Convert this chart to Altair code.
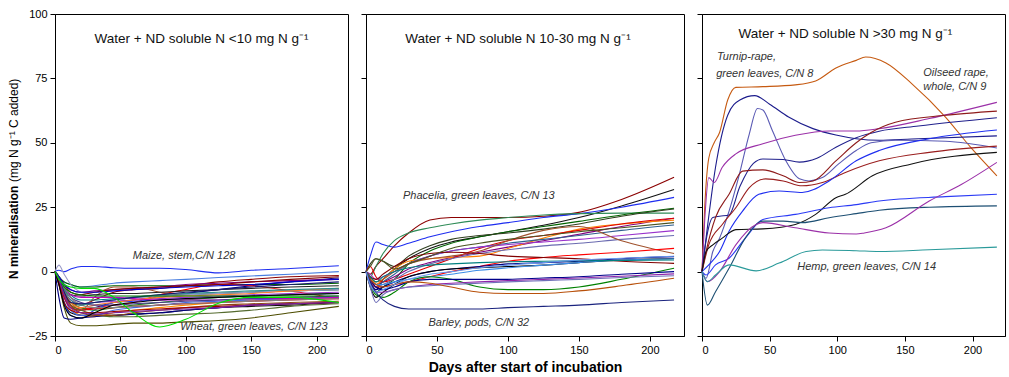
import altair as alt
import pandas as pd

# ---------------- data ----------------
P1_DAYS = [0, 3, 7, 12, 20, 30, 45, 60, 80, 100, 125, 150, 180, 217]
P1_SERIES = [
    ("#1E2EF0", [0, 0.5, 0, 1, 2, 2, 1.5, 1.3, 1.3, 0.8, -0.5, 0.5, 1.2, 2.3]),
    ("#4A7FE0", [0, -2, -4, -5, -6, -5.5, -4.5, -4, -3.5, -3, -2.3, -1.7, -1, 0]),
    ("#4D4D00", [0, -5, -14, -20, -21, -21, -20.5, -20, -20, -19.5, -19, -18, -16, -13.5]),
    ("#006400", [0, -2, -4, -5, -6, -6, -5.5, -5.5, -5.5, -5.5, -5, -5, -5, -4.5]),
    ("#8B0000", [0, -3, -8, -12, -13, -11, -8, -7, -6.5, -5.5, -4, -3, -2, -1.5]),
    ("#000080", [0, -4, -10, -14, -15, -14, -12, -11, -10, -8.5, -7, -5.5, -4, -2.5]),
    ("#FF0000", [0, -3, -9, -13, -14.5, -14, -13, -12, -9, -7, -5, -5.5, -7.5, -10.5]),
    ("#800080", [0, -2, -5, -7, -8, -7.5, -7, -6.5, -6, -5, -4.5, -4, -3.5, -3]),
    ("#FF8C00", [0, -3, -9, -14, -17, -17.5, -16, -15, -14, -13, -12, -11, -10.5, -10]),
    ("#A0522D", [0, -3, -8, -12, -15, -10, -6, -6, -8, -9, -8.5, -8, -7.5, -7]),
    ("#111111", [0, -4, -12, -16, -17, -17, -17, -16.5, -16, -15, -14, -13.5, -13, -12]),
    ("#008080", [0, -2, -6, -9, -11, -11, -10.5, -10, -9.5, -9, -8.5, -8, -7.5, -7]),
    ("#1E3CFF", [0, -4, -12, -17, -18, -15, -12, -11.5, -11, -10.5, -10, -9.5, -9, -8.5]),
    ("#000080", [0, -10, -18, -18.5, -18, -17.5, -17, -16.5, -16, -15, -14, -13, -12.5, -12]),
    ("#9A9AC8", [0, 2.5, -1, -5, -8, -9, -10, -10, -9.5, -9, -8.5, -8, -7.5, -7]),
    ("#228B22", [0, -3, -8, -12, -14, -15, -14, -13, -12, -11, -10, -9.5, -9, -8.5]),
    ("#800000", [0, -2, -5, -8, -9, -8, -7, -6.5, -6, -5.5, -5, -4, -3, -2]),
    ("#9932CC", [0, -3, -8, -11, -12.5, -12, -11.5, -11, -10.5, -10, -9.5, -9, -8.5, -8]),
    ("#4169E1", [0, -3, -10, -15, -17, -17, -15, -14, -13, -12, -11.5, -11, -10.5, -10]),
    ("#222222", [0, -3, -7, -9, -9.5, -9, -8.5, -8.5, -8, -7.5, -7, -6.5, -6, -5.5]),
    ("#E00000", [0, -4, -10, -14, -15, -14.5, -14, -13.5, -13, -12.5, -12, -11.5, -11, -10.5]),
    ("#FF7F27", [0, -2, -7, -12, -14, -13, -12, -11, -10, -9.5, -9, -8.5, -7.5, -6.5]),
    ("#C000C0", [0, -2, -6, -9, -10, -10, -10, -10.5, -11, -11, -11, -10.5, -10.5, -10]),
    ("#556B2F", [0, -3, -9, -13, -15, -16.5, -17.5, -17.5, -17, -16.5, -16, -15, -13.5, -12.5]),
    ("#483D8B", [0, -3, -7, -10, -12, -13, -13, -12.5, -12, -11.5, -11, -10.5, -10, -9.5]),
    ("#808080", [0, -2, -6, -10, -13, -14, -14, -13.5, -13, -12.5, -12, -11.5, -11, -10.5]),
    ("#2E8B8B", [0, -2, -7, -11, -13, -12, -11, -10, -9, -8.5, -8, -7.5, -7, -6.5]),
    ("#8B4513", [0, -3, -8, -13, -16, -17, -17, -16, -15, -14, -13, -12.5, -12, -11.5]),
    ("#191970", [0, -3, -8, -12, -12.5, -12, -11, -10, -9, -8, -7, -6, -5, -4]),
    ("#008000", [0, -2, -6, -8, -9, -9.5, -9.5, -9.5, -9.5, -9.5, -9.5, -9.5, -9.5, -9.5]),
    ("#0000CD", [0, -2, -5, -7, -8, -8, -7.5, -7, -6.5, -6, -5.5, -5, -4, -3]),
    ("#A00000", [0, -5, -12, -15, -16, -16, -15.5, -15, -14.5, -14, -13.5, -13, -12.5, -12]),
    ("#7B1FA2", [0, -3, -9, -14, -16, -16.5, -16, -15.5, -15, -14.5, -14, -13, -12.5, -12]),
    ("#000000", [0, -5, -13, -17, -18, -16, -13, -12, -11, -10.5, -10, -9.5, -9, -8.5]),
    ("#00E000", [0, -3, -5, -6, -6.5, -6.5, -10, -16, -21.5, -18.5, -12.3, -10, -10, -12]),
]

P2_DAYS = [0, 3, 7, 12, 20, 30, 45, 60, 80, 100, 125, 150, 180, 217]
P2_SERIES = [
    ("#8B0000", [0, -1, 2, 5, 10, 15, 20, 21, 21, 21, 21.5, 23, 28, 36.6]),
    ("#111111", [0, -5, -7, -3, 1, 5, 9, 11.5, 13.5, 15.5, 18, 21, 25.5, 31.9]),
    ("#1E2EF0", [0, 6, 11.5, 10.5, 9.5, 11, 13.5, 15.5, 17.5, 19, 21, 22.5, 25, 28.8]),
    ("#2E8B57", [0, -2, 2, 7, 12, 15, 17, 18.5, 20, 21, 22, 22.5, 22.7, 22.7]),
    ("#006400", [0, -4, -8, -6, -3, 3, 8, 11, 13.5, 15.5, 17.5, 19.5, 22, 24.6]),
    ("#2F3F1F", [0, 3, 5, 4, 2, 6, 10, 12.5, 14, 15, 16.5, 18.5, 21.5, 24.3]),
    ("#800080", [0, -3, -5, -4, -2, 1, 3.5, 5.5, 7.5, 9.5, 12, 14.5, 17.5, 20.7]),
    ("#FF8000", [0, -2, -5, -3, 1, 4, 5, 5.5, 6, 9, 13, 16.5, 18.5, 20]),
    ("#E00000", [0, 2, -2, -4, -3, -1, 2, 5, 9, 12, 14, 16, 18.5, 20.7]),
    ("#2F5F8F", [0, -4, -6, -4, -1, 3, 6, 8, 9.5, 11, 12.5, 14, 16, 18.1]),
    ("#9932CC", [0, -1, -3, -2, 0, 3, 6, 8, 9.5, 10.5, 11.5, 12.5, 14, 15.9]),
    ("#6A6AB0", [0, -3, -6, -5, -3, 0, 3, 5, 7, 8.5, 10, 11, 12.5, 14]),
    ("#A0522D", [0, -2, -4, -3, 0, 3, 5, 6, 8, 12, 16, 17.5, 12, 7]),
    ("#FF0000", [0, -3, -6, -6, -5, -4, -2, 0, 2, 4, 5.5, 6.5, 7.5, 9]),
    ("#800000", [0, -2, -3, -1, 2, 5, 7, 7.5, 7, 6, 5.5, 5, 4, 3.2]),
    ("#000080", [0, -4, -7, -6, -4, -2, 0, 1, 2, 3, 3.5, 4, 5, 5.8]),
    ("#000000", [0, -6, -10, -8, -5, -2, 0, 1, 1.5, 2, 2.5, 3.5, 4.5, 5.1]),
    ("#3C8CE6", [0, -3, -5, -5, -4, -3, -2, -1, 0.5, 1.5, 2.5, 3.5, 4.5, 5]),
    ("#008080", [0, -2, -4, -2, 0, 1.5, 2.5, 3, 3.5, 3.8, 4, 4.2, 4.3, 4.5]),
    ("#008000", [0, -5, -9, -10, -8, -4, -2, -3, -6, -7, -7, -6, -3, 1.3]),
    ("#00008B", [0, -3, -6, -7, -6, -4, -3, -3, -3, -3, -2.5, -2, -1, 0]),
    ("#8E24AA", [0, -4, -8, -8, -7, -6, -5, -4.5, -4, -3.5, -3, -2.5, -1.8, -0.9]),
    ("#7070B8", [0, -6, -12, -9, -7, -6, -5.5, -5, -4.5, -4, -3.5, -3, -2.3, -1.6]),
    ("#B8500A", [0, -3, -5, -6, -5, -4, -4.5, -6, -8, -8.5, -8.5, -7.5, -5.5, -2.6]),
    ("#1A237E", [0, -4, -8, -11, -13.5, -14.5, -14.5, -14.5, -14.5, -14, -13.5, -13, -12, -11]),
    ("#4B5320", [0, 2, 5, 4, 1, 3, 6, 9, 11, 12.5, 14, 15.5, 17, 19]),
    ("#6495ED", [0, -5, -8, -7, -5, -3, -1, 0, 1.5, 2.5, 3.5, 4.5, 5.2, 6]),
]

P3_SERIES = [
    ("#C65A11", [0, 2, 5, 9, 13, 19, 25, 45, 69, 84, 99, 114, 121, 136, 155, 180, 199, 218],
     [0, 25, 44, 50, 54, 66.6, 71.5, 71.8, 72.5, 74, 79, 82, 83.3, 81, 73, 60, 48, 37.2]),
    ("#1C1C8C", [0, 3, 10, 19, 28, 39, 50, 64, 82, 99, 114, 131, 155, 218],
     [0, 13, 40.5, 60.7, 66.6, 68.3, 65, 60, 55.5, 53, 51.6, 51, 51.5, 52.7]),
    ("#5A5AB4", [0, 3, 8, 13, 20, 27, 35, 41, 45, 52, 62, 72, 79, 89, 101, 114, 125, 143, 180, 218],
     [0, -2.6, 7.8, 13, 23.5, 36.5, 53.5, 63.3, 62.7, 54.8, 43, 36, 35.2, 36.5, 41.8, 47, 50, 51, 50.6, 48]),
    ("#9B30A8", [0, 2, 5, 9, 15, 25, 45, 69, 94, 114, 131, 168, 218],
     [0, 20, 36.5, 34.6, 40.5, 45.7, 49.6, 52.9, 54.6, 54.6, 55.5, 59.4, 65.7]),
    ("#20208C", [0, 3, 8, 13, 20, 28, 38, 45, 60, 72, 85, 99, 114, 131, 160, 218],
     [0, 12, 21, 21.5, 22, 33, 42, 43.7, 43.5, 42.5, 44, 48.3, 52, 54.5, 56.5, 59.7]),
    ("#8E1B1B", [0, 3, 10, 20, 30, 45, 60, 72, 82, 99, 114, 125, 143, 180, 218],
     [0, 7.8, 21, 30, 39, 39.5, 37.2, 34.6, 35.2, 43, 50, 54, 58, 60.7, 62.3]),
    ("#9A1E1E", [0, 5, 15, 25, 35, 47, 60, 74, 89, 106, 131, 168, 218],
     [0, 10.4, 18.3, 24.8, 32.6, 36, 35.2, 33.3, 34.6, 38.5, 43, 46.3, 48.7]),
    ("#1E2EF0", [0, 5, 13, 20, 30, 42, 57, 74, 94, 114, 131, 168, 218],
     [0, 2.6, 7.8, 15.7, 23.5, 30, 31.3, 30.7, 35.2, 43, 47, 51.6, 55]),
    ("#111111", [0, 3, 8, 15, 25, 45, 69, 84, 99, 106, 126, 155, 218],
     [0, 7.8, 10.4, 13, 16.3, 16.6, 18.3, 22.2, 28.7, 30, 37.2, 41.8, 46.3]),
    ("#2A3AF5", [0, 3, 10, 20, 32, 45, 69, 94, 114, 131, 180, 218],
     [0, -1.3, 2.6, 5.2, 13, 20.2, 22.2, 24.8, 26, 27.4, 29.1, 30]),
    ("#1D4F73", [0, 4, 10, 20, 32, 45, 60, 74, 94, 114, 131, 168, 218],
     [0, -13, -7.8, 1.3, 13, 19.6, 19.6, 19, 20.9, 22.5, 23.8, 25, 25.5]),
    ("#9B30A8", [0, 4, 13, 25, 40, 45, 69, 94, 114, 120, 136, 168, 192, 218],
     [0, -3.9, 0, 10.4, 18.3, 19, 17, 15, 14.6, 15, 17, 27.4, 33.9, 42.4]),
    ("#2A9A9A", [0, 4, 10, 20, 40, 57, 77, 89, 114, 131, 168, 218],
     [0, -3.9, -1.3, 2.6, 0.3, 3.3, 7.8, 8.4, 8.1, 7.8, 8.5, 9.5]),
]

PANEL_TITLES = [
    "Water + ND soluble N <10 mg N g\u207b\u00b9",
    "Water + ND soluble N 10-30 mg N g\u207b\u00b9",
    "Water + ND soluble N >30 mg N g\u207b\u00b9",
]
TITLE_POS = [(112, 90.3), (107, 90.3), (106, 92.2)]

NOTES_CENTER = [
    [("Maize, stem,C/N 128", 98.7, 6.2), ("Wheat, green leaves, C/N 123", 152, -21.7)],
    [("Phacelia, green leaves, C/N 13", 79.5, 29.3), ("Barley, pods, C/N 32", 79.5, -19.8)],
    [("Hemp, green leaves, C/N 14", 121.7, 1.7)],
]
NOTES_LEFT = [
    [],
    [],
    [("Turnip-rape,", 11, 83.3), ("green leaves, C/N 8", 10.5, 76.8),
     ("Oilseed rape,", 163.6, 77.2), ("whole, C/N 9", 163.6, 71.6)],
]

X_TICKS = [0, 50, 100, 150, 200]
Y_TICKS = [-25, 0, 25, 50, 75, 100]
WIDTHS = [293, 318, 303]
HEIGHT = 322
FONT = "Liberation Sans"


def frame_from(series_list, days=None):
    rows = []
    for i, s in enumerate(series_list):
        if days is None:
            color, ds, vals = s
        else:
            color, vals = s
            ds = days
        for d, v in zip(ds, vals):
            rows.append({"series": f"s{i:02d}", "color": color, "day": d, "value": v})
    return pd.DataFrame(rows)


dfs = [frame_from(P1_SERIES, P1_DAYS), frame_from(P2_SERIES, P2_DAYS), frame_from(P3_SERIES)]


def panel(k):
    show_y = k == 0
    xaxis = alt.Axis(values=X_TICKS, grid=False,
                     title="Days after start of incubation" if k == 1 else None,
                     titleFontSize=14, titleFontWeight="bold", titleFont=FONT,
                     titlePadding=5)
    yaxis = alt.Axis(values=Y_TICKS, grid=False, labels=show_y, title=None)
    x = alt.X("day:Q", scale=alt.Scale(domain=[0, 224], nice=False, zero=False), axis=xaxis)
    y = alt.Y("value:Q", scale=alt.Scale(domain=[-25, 100], nice=False, zero=False), axis=yaxis)

    lines = alt.Chart(dfs[k]).mark_line(interpolate="monotone", strokeWidth=1.1).encode(
        x=x, y=y,
        color=alt.Color("color:N", scale=None),
        detail="series:N",
    )
    tdf = pd.DataFrame({"label": [PANEL_TITLES[k]], "day": [TITLE_POS[k][0]], "value": [TITLE_POS[k][1]]})
    title = alt.Chart(tdf).mark_text(font=FONT, fontSize=13.5, color="#111111",
                                     align="center", baseline="middle").encode(
        x="day:Q", y="value:Q", text="label:N")
    layers = [lines, title]

    if NOTES_CENTER[k]:
        ndf = pd.DataFrame(NOTES_CENTER[k], columns=["label", "day", "value"])
        layers.append(alt.Chart(ndf).mark_text(font=FONT, fontSize=11, fontStyle="italic",
                                               color="#333333", align="center",
                                               baseline="middle").encode(
            x="day:Q", y="value:Q", text="label:N"))
    if NOTES_LEFT[k]:
        ldf = pd.DataFrame(NOTES_LEFT[k], columns=["label", "day", "value"])
        layers.append(alt.Chart(ldf).mark_text(font=FONT, fontSize=11, fontStyle="italic",
                                               color="#333333", align="left",
                                               baseline="middle").encode(
            x="day:Q", y="value:Q", text="label:N"))
    if show_y:
        ya = pd.DataFrame({"t": ["N mineralisation"]})
        yb = pd.DataFrame({"t": ["(mg N g\u207b\u00b9  C added)"]})
        layers.append(alt.Chart(ya).mark_text(font=FONT, fontSize=12, fontWeight="bold",
                                              angle=270, align="left", baseline="middle",
                                              color="#000000").encode(
            x=alt.value(-41), y=alt.value(265), text="t:N"))
        layers.append(alt.Chart(yb).mark_text(font=FONT, fontSize=12,
                                              angle=270, align="left", baseline="middle",
                                              color="#000000").encode(
            x=alt.value(-41), y=alt.value(168), text="t:N"))
    return alt.layer(*layers).properties(width=WIDTHS[k], height=HEIGHT)


chart = alt.hconcat(panel(0), panel(1), panel(2), spacing=18, bounds="flush").properties(
    padding={"left": 7, "top": 7, "right": 0, "bottom": 0},
    background="white",
).configure_view(stroke="black", strokeWidth=1).configure_axis(
    domainColor="black", tickColor="black", labelColor="black", labelFont=FONT,
    labelFontSize=11, tickSize=5, domainWidth=1, tickWidth=1, labelPadding=3,
)

chart.save("out.html", embed_options={"renderer": "svg", "actions": False})
